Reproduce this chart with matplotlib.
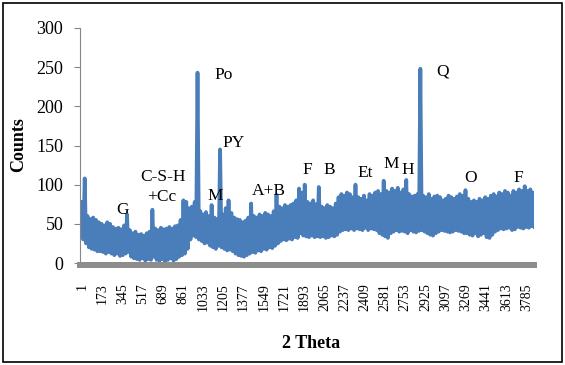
import matplotlib
matplotlib.use("Agg")
import matplotlib.pyplot as plt
from matplotlib.patches import Rectangle
import numpy as np

plt.rcParams['font.family'] = ['Liberation Serif', 'DejaVu Serif']

# noisy trace: top and bottom of the trace, one value every 24 channels
step = 24
upper = [
    78, 108, 60, 56, 58, 55, 52, 50, 48, 52,
    50, 46, 44, 45, 43, 48, 62, 42, 38, 40,
    36, 37, 35, 38, 40, 68, 44, 42, 45, 43,
    44, 46, 44, 47, 48, 55, 80, 78, 70, 72,
    78, 243, 66, 62, 65, 60, 74, 58, 56, 145,
    62, 70, 80, 64, 58, 56, 55, 52, 54, 58,
    76, 60, 58, 62, 60, 64, 62, 60, 66, 87,
    72, 70, 74, 72, 74, 76, 80, 95, 90, 100,
    78, 76, 80, 75, 97, 72, 70, 74, 72, 70,
    76, 84, 88, 86, 90, 88, 84, 100, 84, 82,
    86, 80, 88, 86, 90, 92, 88, 105, 92, 90,
    95, 92, 96, 90, 94, 106, 88, 85, 86, 88,
    248, 86, 84, 88, 82, 85, 86, 84, 80, 82,
    86, 84, 82, 85, 88, 86, 93, 82, 78, 80,
    78, 82, 80, 84, 82, 86, 88, 85, 90, 88,
    92, 90, 86, 92, 90, 94, 92, 98, 92, 94,
    90,
]
lower = [
    30, 25, 20, 18, 17, 15, 15, 14, 12, 14,
    12, 10, 12, 9, 10, 12, 14, 8, 6, 5,
    4, 6, 3, 5, 4, 8, 4, 3, 5, 2,
    4, 6, 3, 5, 8, 10, 12, 18, 30, 35,
    33, 30, 28, 25, 26, 22, 20, 18, 22, 20,
    18, 16, 17, 15, 12, 10, 9, 8, 10, 12,
    14, 13, 16, 15, 18, 17, 20, 19, 22, 25,
    28, 30, 29, 31, 30, 33, 32, 38, 35, 34,
    33, 35, 33, 34, 33, 34, 32, 33, 35, 34,
    36, 40, 42, 43, 42, 44, 42, 44, 43, 42,
    45, 42, 44, 43, 42, 38, 36, 34, 32, 38,
    40, 42, 40, 41, 40, 38, 42, 40, 39, 41,
    42, 40, 38, 36, 35, 38, 40, 42, 41, 40,
    39, 40, 42, 41, 40, 38, 38, 36, 35, 38,
    34, 36, 38, 33, 32, 36, 40, 42, 44, 43,
    44, 45, 42, 43, 46, 45, 44, 46, 45, 47,
    46,
]
ch_up = 1 + step * np.arange(len(upper))
ch_lo = ch_up + step // 2
channel = np.column_stack([ch_up, ch_lo]).ravel()
counts = np.column_stack([upper, lower]).ravel()

tick_labels = [1 + 172 * k for k in range(23)]

# phase labels: (text, channel, counts)
phases = [
    ("G", 350, 68), ("C-S-H", 690, 110), ("+Cc", 682, 84),
    ("Po", 1210, 240), ("PY", 1295, 153), ("M", 1133, 86),
    ("A+B", 1593, 92), ("F", 1916, 119), ("B", 2103, 119),
    ("Et", 2410, 115), ("M", 2631, 126), ("H", 2776, 119),
    ("Q", 3073, 245), ("O", 3312, 109), ("F", 3712, 109),
]

W, H = 565, 365
fig = plt.figure(figsize=(W / 100, H / 100), dpi=100)
ax = fig.add_axes([80 / W, 1 - 263 / H, (534 - 80) / W, (263 - 28) / H])

ax.plot(channel, counts, color='#4a7ebb', lw=2.7, solid_joinstyle='round')

for txt, cx, cy in phases:
    ax.text(cx, cy, txt, ha='center', va='center', fontsize=12.5)

ax.set_xlim(-15, 3848)
ax.set_ylim(0, 300)
ax.set_yticks(range(0, 301, 50))
ax.set_xticks(tick_labels)
ax.set_xticklabels([str(t) for t in tick_labels], fontsize=12)
ax.tick_params(axis='x', length=0, pad=13, labelrotation=90)
ax.tick_params(axis='y', length=4, color='#868686', pad=8, labelsize=13)

for s in ['top', 'right']:
    ax.spines[s].set_visible(False)
ax.spines['left'].set_color('#868686')
ax.spines['bottom'].set_color('#8c8c8c')
ax.spines['bottom'].set_linewidth(4.3)
ax.spines['bottom'].set_position(('outward', 1.5))

fig.text(19 / W, 1 - 145 / H, "Counts", rotation=90, ha='center', va='center',
         fontsize=13, fontweight='bold')
fig.text(311 / W, 1 - 343 / H, "2 Theta", ha='center', va='center',
         fontsize=13, fontweight='bold')

fig.patches.append(Rectangle((3 / W, 3 / H), (W - 6) / W, (H - 6) / H,
                             transform=fig.transFigure, fill=False,
                             edgecolor='black', lw=1.2))

fig.savefig("out.png", dpi=100)
